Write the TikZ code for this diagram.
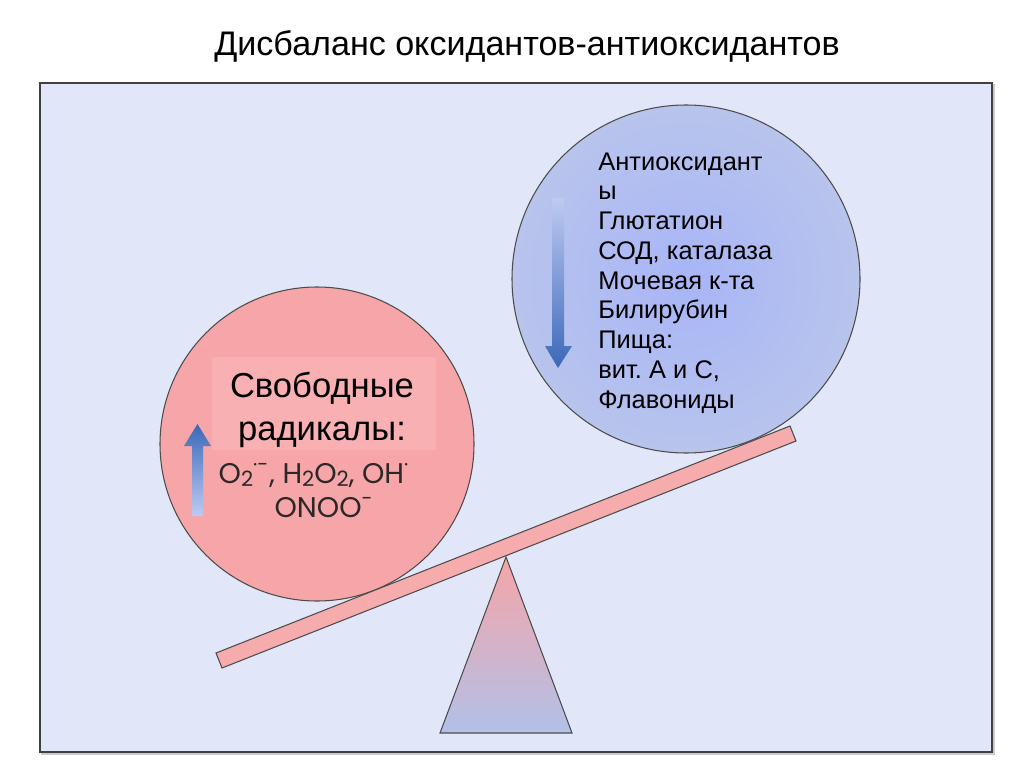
\documentclass[tikz,border=0pt]{standalone}
\usepackage{fontspec}
\setmainfont{Liberation Sans}
\newfontfamily\formulafont{Poppins}
\frenchspacing

\definecolor{panelblue}{RGB}{225,231,249}
\definecolor{radpink}{RGB}{246,165,168}
\definecolor{radrect}{RGB}{249,176,179}
\definecolor{antiblue}{RGB}{168,181,247}
\definecolor{antiring}{RGB}{184,196,236}
\definecolor{arrowblue}{RGB}{60,104,184}
\definecolor{arrowfade}{RGB}{190,202,242}
\definecolor{beampink}{RGB}{246,172,172}
\definecolor{standblue}{RGB}{178,192,232}
\definecolor{textgray}{RGB}{45,40,40}

\tikzset{
  outline/.style={draw=black!70, line width=0.6pt},
  antiline/.style={anchor=base west, inner sep=0pt, font=\fontsize{14.5}{17}\selectfont},
  radline/.style={anchor=base, inner sep=0pt, font=\fontsize{19.7}{24}\selectfont},
  formline/.style={anchor=base, inner sep=0pt, text=textgray, font=\formulafont\fontsize{16.2}{19}\selectfont}
}
\newcommand{\lowtwo}{\raisebox{-0.25ex}{\fontsize{12}{14}\selectfont 2}}

\begin{document}
\begin{tikzpicture}[x=0.02cm, y=-0.02cm]
        \useasboundingbox (0,0) rectangle (1024,767);
        % title
        \node [anchor=base, inner sep=0pt, font=\fontsize{19.4}{24}\selectfont] (title) at (527,56) {Дисбаланс оксидантов-антиоксидантов};
        % panel
        \draw [black!20, line width=0.8pt] (42,85) rectangle (994,754);
        \draw [fill=panelblue, draw=black!75, line width=0.8pt] (40,83) rectangle (992,752);
        % circles
        \draw [outline, fill=radpink] (317,444) circle (157);
        \fill [radrect] (212,357) rectangle (436,450);
        \draw [outline, inner color=antiblue, outer color=antiring] (686,279) circle (174);
        % beam and stand
        \draw [outline, fill=beampink] (216,653) -- (790,426) -- (796,441) -- (222,668) -- cycle;
        \draw [outline, top color=radpink, bottom color=standblue] (506,557) -- (572,733) -- (440,733) -- cycle;
        % arrows
        \shade [top color=arrowblue, bottom color=arrowfade] (192,516) -- (192,446) -- (184,446) -- (197.5,424) -- (211,446) -- (203,446) -- (203,516) -- cycle;
        \shade [top color=arrowfade, bottom color=arrowblue] (552,198) -- (552,346) -- (545,346) -- (558,368) -- (572,346) -- (564,346) -- (564,198) -- cycle;
        % free radicals
        \node [radline] (rad1) at (322,397) {Свободные};
        \node [radline] (rad2) at (322,440) {радикалы:};
        \node [formline] (form1) at (314,483) {O\lowtwo\textsuperscript{·-}, H\lowtwo O\lowtwo, OH\textsuperscript{·}};
        \node [formline] (form2) at (324,517) {ONOO\textsuperscript{-}};
        % antioxidants
        \foreach \txt [count=\i] in {Антиоксидант, ы, Глютатион, {СОД, каталаза}, Мочевая к-та, Билирубин, Пища:, {вит. А и С,}, Флавониды}
            \node [antiline] (anti\i) at (598,{170+29.75*(\i-1)}) {\txt};
    \end{tikzpicture}
\end{document}
